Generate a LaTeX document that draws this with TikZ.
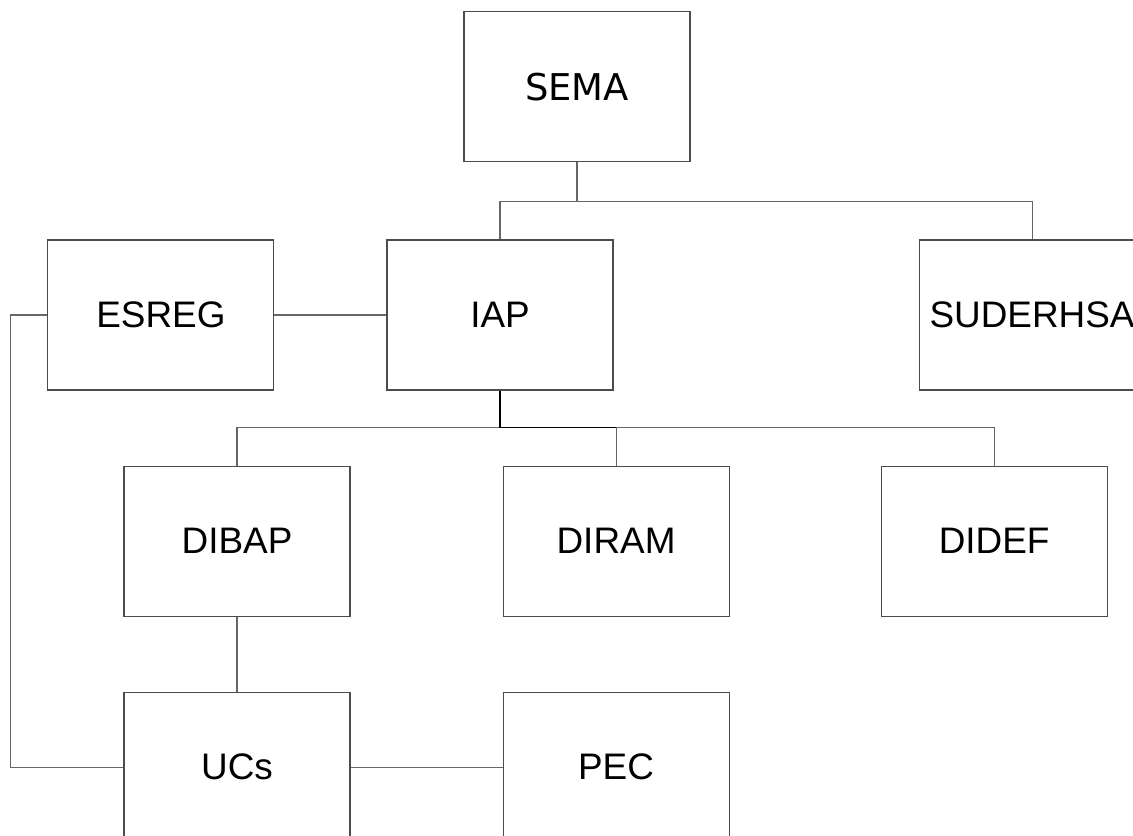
\documentclass[tikz,border=0pt]{standalone}
\usepackage{fontspec}
\setmainfont{Liberation Sans}
\newfontfamily\semafont{DejaVu Sans}
\usetikzlibrary{positioning,calc}
\tikzset{
    unitbox/.style={
        rectangle,                % caja simple
        draw=black!70,            % borde gris oscuro
        line width=0.6pt,
        fill=white,
        minimum width=4.52cm,     % ancho fijo para todas las cajas
        minimum height=3cm,
        inner sep=0pt,
        font=\fontsize{21}{25}\selectfont
    },
    link/.style={
        draw=black!60,            % conectores finos y grises
        line width=0.6pt
    },
    mainlink/.style={
        draw=black,               % tramo principal mas marcado
        line width=1.1pt
    }
}

\begin{document}
\begin{tikzpicture}
			\useasboundingbox (-10,6.3) rectangle (12.66,-10.42);
			\clip (-10,6.3) rectangle (12.66,-10.42);

			\node[unitbox] (iap) at (0,0) {IAP};
			\node[unitbox, left=2.24cm of iap] (esreg) {ESREG};
			\node[unitbox, above=1.54cm of iap, xshift=1.54cm, font=\semafont\fontsize{21}{25}\selectfont] (sema) {SEMA};
			\node[unitbox, right=6.1cm of iap] (suderhsa) {SUDERHSA};
			\node[unitbox, below=1.5cm of iap, xshift=-5.26cm] (dibap) {DIBAP};
			\node[unitbox, right=3.04cm of dibap] (diram) {DIRAM};
			\node[unitbox, right=3.02cm of diram] (didef) {DIDEF};
			\node[unitbox, below=1.5cm of dibap] (ucs) {UCs};
			\node[unitbox, right=3.04cm of ucs] (pec) {PEC};

			% SEMA hacia IAP y SUDERHSA
			\draw[link] (sema.south) -- ++(0,-0.78) coordinate (busa);
			\draw[link] (iap.north) |- (busa) -| (suderhsa.north);

			% IAP hacia las direcciones
			\coordinate (busb) at ($(iap.south)+(0,-0.74)$);
			\draw[link] (dibap.north) |- (busb) -| (didef.north);
			\draw[link] (diram.north) -- (diram.north |- busb);
			\draw[mainlink] (iap.south) -- (busb) -- (diram.north |- busb);

			\draw[link] (esreg) -- (iap);
			\draw[link] (esreg.west) -- ++(-0.74,0) |- (ucs.west);
			\draw[link] (dibap) -- (ucs);
			\draw[link] (ucs) -- (pec);
		\end{tikzpicture}
\end{document}
